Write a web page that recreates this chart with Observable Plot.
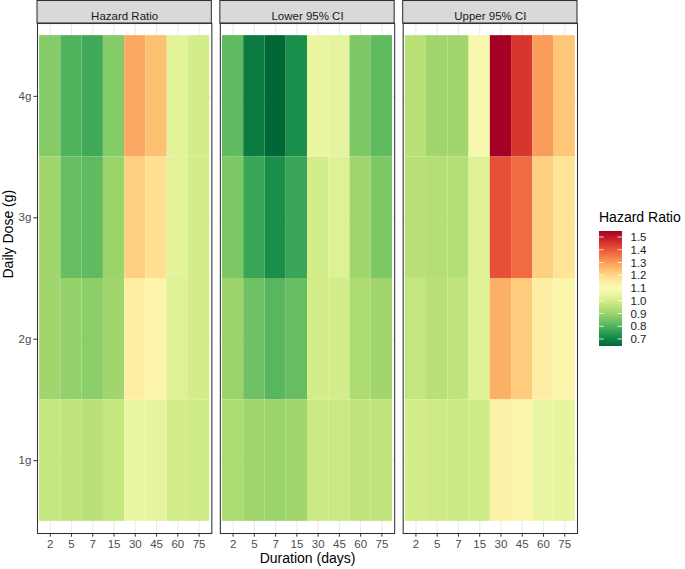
<!DOCTYPE html>
<html>
<head>
<meta charset="utf-8">
<script src="https://cdn.jsdelivr.net/npm/d3@7"></script>
<script src="https://cdn.jsdelivr.net/npm/@observablehq/plot@0.6"></script>
<style>
  html, body { margin: 0; padding: 0; background: #fff; }
  svg { display: block; }
</style>
</head>
<body>
<div id="chart"></div>
<script>
// ---- data ----
const panels = ["Hazard Ratio", "Lower 95% CI", "Upper 95% CI"];
const durations = ["2", "5", "7", "15", "30", "45", "60", "75"];
const doses = ["4g", "3g", "2g", "1g"];
const legendTicks = [0.7, 0.8, 0.9, 1.0, 1.1, 1.2, 1.3, 1.4, 1.5];

// rows: 4g, 3g, 2g, 1g ; columns: durations
const hazardRatio = [
  [0.87, 0.80, 0.78, 0.87, 1.28, 1.24, 1.03, 1.00],
  [0.91, 0.83, 0.82, 0.90, 1.21, 1.18, 1.03, 1.00],
  [0.91, 0.89, 0.88, 0.91, 1.14, 1.12, 1.02, 1.00],
  [0.97, 0.96, 0.95, 0.97, 1.05, 1.04, 1.00, 0.99]
];
const lowerCI = [
  [0.82, 0.68, 0.645, 0.72, 1.05, 1.04, 0.86, 0.82],
  [0.86, 0.77, 0.72, 0.77, 1.00, 1.02, 0.91, 0.86],
  [0.90, 0.84, 0.81, 0.83, 1.00, 1.00, 0.93, 0.91],
  [0.93, 0.91, 0.90, 0.91, 0.98, 0.98, 0.96, 0.96]
];
const upperCI = [
  [0.95, 0.91, 0.91, 1.09, 1.547, 1.45, 1.30, 1.23],
  [0.95, 0.94, 0.94, 1.02, 1.41, 1.37, 1.21, 1.17],
  [0.97, 0.95, 0.96, 1.02, 1.27, 1.22, 1.14, 1.11],
  [1.00, 0.99, 0.98, 0.99, 1.13, 1.11, 1.05, 1.04]
];

const series = {"Hazard Ratio": hazardRatio, "Lower 95% CI": lowerCI, "Upper 95% CI": upperCI};
const cells = [];
panels.forEach(p => series[p].forEach((row, i) => row.forEach((v, j) =>
  cells.push({panel: p, dose: doses[i], dur: durations[j], value: v}))));

const FONT = "'Liberation Sans', Arial, sans-serif";

const plot = Plot.plot({
  width: 685,
  height: 569,
  marginTop: 23,
  marginBottom: 36,
  marginLeft: 37,
  marginRight: 108,
  style: {fontFamily: FONT, fontSize: "11.5px", background: "#fff", overflow: "visible"},
  fx: {domain: panels, paddingInner: 0.0465, paddingOuter: 0, round: false, axis: null, label: null},
  x: {type: "band", domain: durations, paddingInner: 0, paddingOuter: 0.1, round: false, label: null},
  y: {type: "band", domain: doses, paddingInner: 0, paddingOuter: 0.1, round: false, label: null},
  color: {type: "linear", scheme: "rdylgn", reverse: true},
  marks: [
    Plot.gridX({stroke: "#ebebeb", strokeOpacity: 1, strokeWidth: 1.07}),
    Plot.gridY({stroke: "#ebebeb", strokeOpacity: 1, strokeWidth: 1.07}),
    Plot.cell(cells, {fx: "panel", x: "dur", y: "dose", fill: "value", inset: 0}),
    Plot.frame({stroke: "#333333", strokeWidth: 1.07}),
    Plot.axisX({tickSize: 3.7, tickPadding: 2.5, stroke: "#333333", fill: "#4d4d4d", fontSize: 11.5, label: null}),
    Plot.axisY({tickSize: 3.7, tickPadding: 2.5, stroke: "#333333", fill: "#4d4d4d", fontSize: 11.5, label: null}),
    Plot.text(panels, {fx: d => d, text: d => d, frameAnchor: "top", dy: -11.5, fontSize: 11.5, fill: "#1a1a1a"}),
    Plot.text(["Duration (days)"], {fx: () => panels[1], text: d => d, frameAnchor: "bottom", dy: 29, fontSize: 14, fill: "#000"}),
    Plot.text(["Daily Dose (g)"], {fx: () => panels[0], text: d => d, frameAnchor: "left", rotate: -90, dx: -29, fontSize: 14, fill: "#000"})
  ]
});

document.getElementById("chart").appendChild(plot);

// ---- strip backgrounds (under the strip text), positioned with Plot's fx scale ----
const svg = d3.select(plot);
const fx = plot.scale("fx");
const strips = svg.insert("g", ":first-child");
panels.forEach(p => {
  const x0 = fx.apply(p);
  strips.append("rect")
    .attr("x", x0).attr("y", 0.5)
    .attr("width", fx.bandwidth).attr("height", 22.5)
    .attr("fill", "#d9d9d9").attr("stroke", "#333333").attr("stroke-width", 1.07);
});
svg.insert("rect", ":first-child").attr("width", 685).attr("height", 569).attr("fill", "#fff");

// ---- vertical colour bar legend, built from Plot's colour scale ----
const color = plot.scale("color");
const [dmin, dmax] = color.domain;
const bx = 599, by = 231, bw = 23, bh = 115;
const defs = svg.append("defs");
const grad = defs.append("linearGradient").attr("id", "hrgrad")
  .attr("x1", 0).attr("y1", 0).attr("x2", 0).attr("y2", 1);
d3.range(0, 51).forEach(i => {
  const t = i / 50;
  grad.append("stop").attr("offset", t).attr("stop-color", color.apply(dmax - t * (dmax - dmin)));
});
const lg = svg.append("g").attr("font-family", FONT).attr("text-anchor", "start");
lg.append("text").attr("x", bx).attr("y", 221.5).attr("font-size", 14).attr("fill", "#000").text("Hazard Ratio");
lg.append("rect").attr("x", bx).attr("y", by).attr("width", bw).attr("height", bh).attr("fill", "url(#hrgrad)");
const ly = d3.scaleLinear().domain([dmin, dmax]).range([by + bh, by]);
legendTicks.forEach(v => {
  const y = ly(v);
  lg.append("line").attr("x1", bx).attr("x2", bx + 4.6).attr("y1", y).attr("y2", y).attr("stroke", "#fff").attr("stroke-width", 0.8);
  lg.append("line").attr("x1", bx + bw - 4.6).attr("x2", bx + bw).attr("y1", y).attr("y2", y).attr("stroke", "#fff").attr("stroke-width", 0.8);
  lg.append("text").attr("x", bx + bw + 8.5).attr("y", y).attr("dy", "0.35em")
    .attr("font-size", 11.5).attr("fill", "#1a1a1a").text(v.toFixed(1));
});
</script>
</body>
</html>
